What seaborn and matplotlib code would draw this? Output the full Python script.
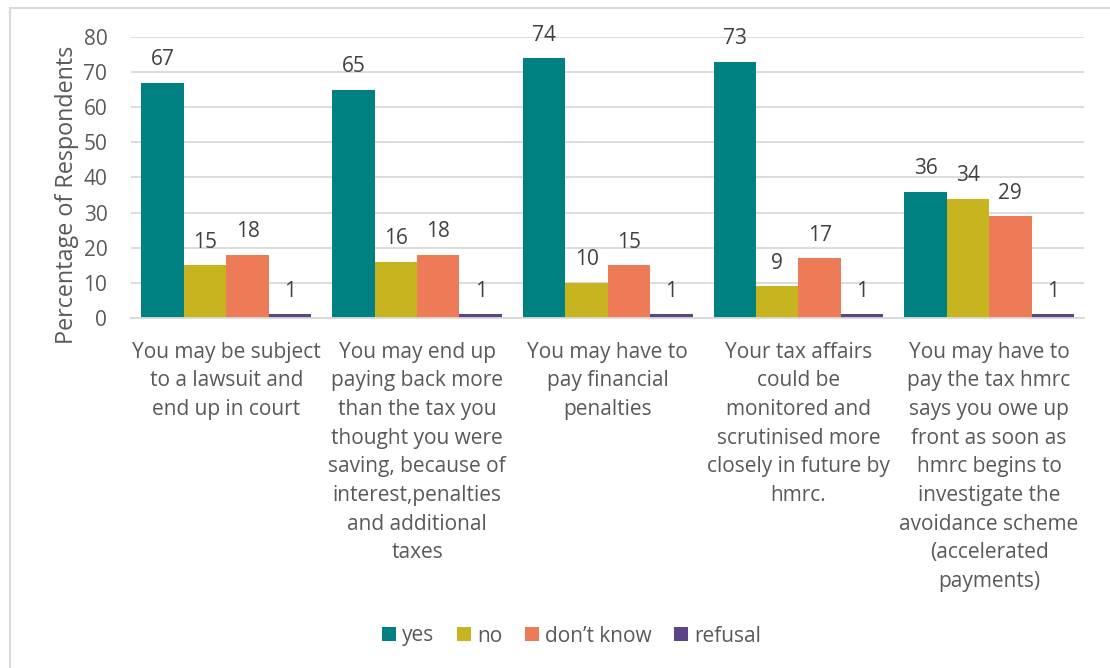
import matplotlib
matplotlib.use("Agg")
import matplotlib.pyplot as plt
from matplotlib.patches import Rectangle
import seaborn as sns
import pandas as pd

categories = [
    "You may be subject\nto a lawsuit and\nend up in court",
    "You may end up\npaying back more\nthan the tax you\nthought you were\nsaving, because of\ninterest,penalties\nand additional\ntaxes",
    "You may have to\npay financial\npenalties",
    "Your tax affairs\ncould be\nmonitored and\nscrutinised more\nclosely in future by\nhmrc.",
    "You may have to\npay the tax hmrc\nsays you owe up\nfront as soon as\nhmrc begins to\ninvestigate the\navoidance scheme\n(accelerated\npayments)",
]
series = ["yes", "no", "don\u2019t know", "refusal"]
yes = [67, 65, 74, 73, 36]
no = [15, 16, 10, 9, 34]
dont_know = [18, 18, 15, 17, 29]
refusal = [1, 1, 1, 1, 1]
colors = ["#008080", "#C8B41E", "#EE7B58", "#5C4586"]

rows = []
for name, vals in zip(series, [yes, no, dont_know, refusal]):
    for cat, v in zip(categories, vals):
        rows.append({"category": cat, "response": name, "value": v})
df = pd.DataFrame(rows)

sns.set_style("white")
plt.rcParams["font.family"] = ["Open Sans", "DejaVu Sans"]
text_color = "#595959"

fig = plt.figure(figsize=(11.1, 6.68), dpi=100)
ax = fig.add_axes([0.118, 0.524, 0.859, 0.4206])

sns.barplot(data=df, x="category", y="value", hue="response",
            palette=colors, width=0.89, gap=0, saturation=1,
            edgecolor="none", linewidth=0, ax=ax, legend=True)

for container in ax.containers:
    ax.bar_label(container, fmt="%d", padding=9, fontsize=15, color="#404040")

ax.set_ylim(0, 80)
ax.set_yticks(range(0, 81, 10))
ax.set_xlim(-0.5, len(categories) - 0.5)
ax.yaxis.grid(True, color="#D9D9D9", linewidth=1.3)
ax.set_axisbelow(True)
for side in ["top", "right", "left"]:
    ax.spines[side].set_visible(False)
ax.spines["bottom"].set_color("#D9D9D9")
ax.spines["bottom"].set_linewidth(1.3)
ax.tick_params(axis="y", length=0, labelsize=15, labelcolor=text_color, pad=17)
ax.tick_params(axis="x", length=0, labelsize=15, labelcolor=text_color, pad=17)
for lbl in ax.get_xticklabels():
    lbl.set_linespacing(1.48)
    lbl.set_verticalalignment("top")
ax.set_xlabel("")
ax.set_ylabel("Percentage of Respondents", fontsize=16.8, color=text_color)
ax.yaxis.set_label_coords(-0.0545, 0.438)

handles, labels = ax.get_legend_handles_labels()
ax.legend_.remove()
fig.legend(handles, labels, loc="center", bbox_to_anchor=(0.515, 1 - 636 / 668),
           ncol=4, frameon=False, fontsize=15, labelcolor=text_color,
           handlelength=0.65, handleheight=0.65, handletextpad=0.3,
           columnspacing=1.1)

fig.patches.append(Rectangle((10 / 1110, -0.1), 1.2, 1 - 8 / 668 + 0.1,
                             transform=fig.transFigure, fill=False,
                             edgecolor="#D9D9D9", linewidth=1.5))

fig.savefig("out.png", dpi=100)
